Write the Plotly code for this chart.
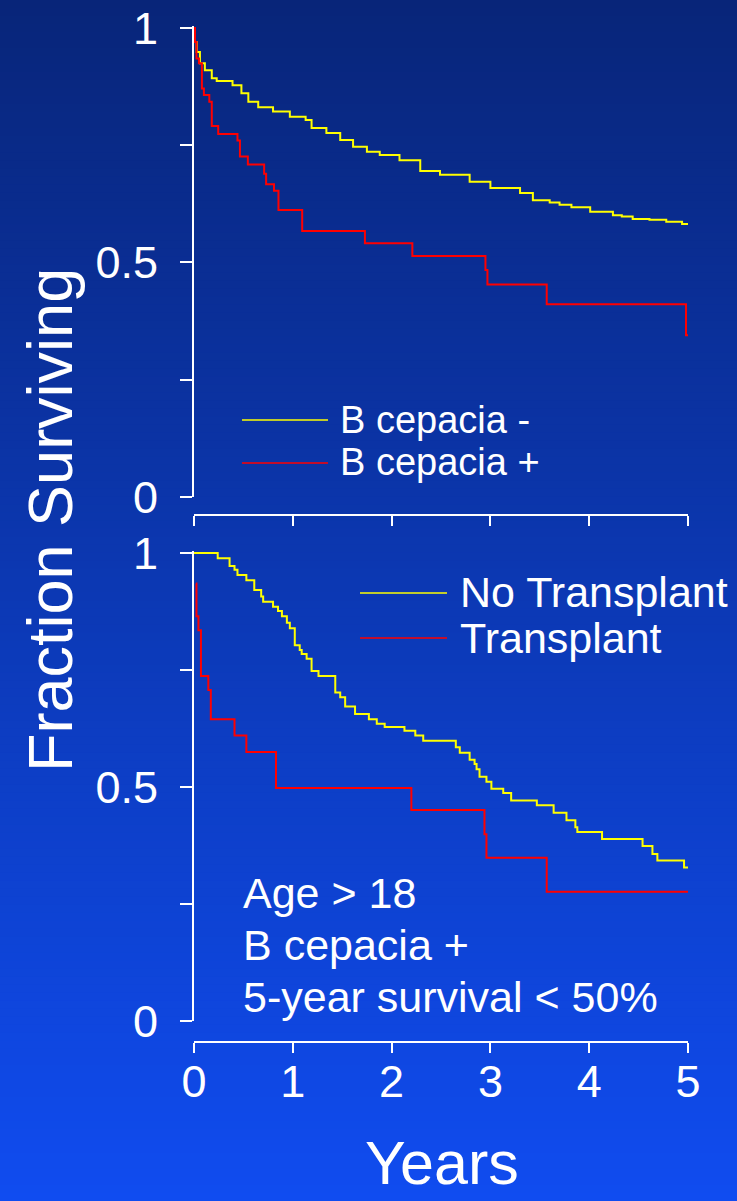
import plotly.graph_objects as go

# ---------------- data ----------------
# Top panel: B cepacia negative / positive (Kaplan-Meier steps: time in years, fraction surviving)
neg_t = [0, 0.01, 0.027, 0.06, 0.11, 0.18, 0.23, 0.39, 0.48, 0.55, 0.65, 0.80, 0.97, 1.13, 1.19,
         1.34, 1.48, 1.61, 1.75, 1.88, 2.08, 2.29, 2.49, 2.79, 3.0, 3.3, 3.43, 3.60, 3.70, 3.82,
         4.01, 4.24, 4.33, 4.44, 4.61, 4.78, 4.94, 5.0]
neg_s = [1.0, 0.97, 0.949, 0.925, 0.91, 0.893, 0.887, 0.878, 0.861, 0.843, 0.831, 0.822, 0.811, 0.804, 0.787,
         0.776, 0.761, 0.747, 0.736, 0.729, 0.718, 0.695, 0.687, 0.672, 0.659, 0.648, 0.633, 0.628, 0.623, 0.618,
         0.608, 0.601, 0.598, 0.593, 0.591, 0.587, 0.582, 0.582]

pos_t = [0, 0.01, 0.025, 0.05, 0.08, 0.10, 0.155, 0.18, 0.245, 0.44, 0.465, 0.545, 0.71, 0.73, 0.81,
         0.855, 1.095, 1.73, 2.21, 2.95, 2.97, 3.57, 4.98, 5.0]
pos_s = [1.0, 0.97, 0.935, 0.925, 0.871, 0.857, 0.843, 0.791, 0.774, 0.760, 0.726, 0.709, 0.689, 0.667, 0.653,
         0.612, 0.567, 0.541, 0.514, 0.484, 0.453, 0.411, 0.345, 0.345]

# Bottom panel: no transplant / transplant
notx_t = [0, 0.24, 0.36, 0.41, 0.44, 0.53, 0.61, 0.68, 0.70, 0.80, 0.85, 0.89, 0.94, 0.97, 1.02, 1.07,
          1.09, 1.14, 1.19, 1.26, 1.43, 1.48, 1.53, 1.63, 1.77, 1.85, 1.93, 2.13, 2.24, 2.32, 2.65, 2.69,
          2.79, 2.84, 2.86, 2.89, 2.96, 3.01, 3.13, 3.21, 3.47, 3.64, 3.77, 3.86, 3.88, 4.13, 4.54, 4.64,
          4.69, 4.96, 5.0]
notx_s = [1.0, 0.989, 0.972, 0.964, 0.953, 0.942, 0.921, 0.907, 0.896, 0.885, 0.876, 0.865, 0.851, 0.839, 0.803, 0.793,
          0.784, 0.774, 0.748, 0.737, 0.702, 0.692, 0.672, 0.656, 0.645, 0.635, 0.628, 0.620, 0.610, 0.599, 0.585, 0.573,
          0.558, 0.549, 0.538, 0.522, 0.511, 0.496, 0.487, 0.471, 0.461, 0.445, 0.429, 0.414, 0.404, 0.389, 0.374, 0.357,
          0.343, 0.328, 0.328]

tx_t = [0.02, 0.025, 0.045, 0.07, 0.145, 0.17, 0.41, 0.53, 0.83, 2.20, 2.94, 2.96, 3.57, 5.0]
tx_s = [0.935, 0.865, 0.835, 0.737, 0.707, 0.645, 0.610, 0.575, 0.498, 0.451, 0.399, 0.349, 0.276, 0.276]

x_ticks = [0, 1, 2, 3, 4, 5]
x_ticklabels = ["0", "1", "2", "3", "4", "5"]
y_ticks = [0, 0.25, 0.5, 0.75, 1]
y_ticklabels = ["0", "", "0.5", "", "1"]

top_legend = ["B cepacia -", "B cepacia +"]
bottom_legend = ["No Transplant", "Transplant"]
bottom_notes = ["Age &gt; 18", "B cepacia +", "5-year survival &lt; 50%"]

# ---------------- layout helpers ----------------
W, H = 737, 1201
FONT = "Liberation Sans, Arial, sans-serif"
YELLOW = "#ffff00"
RED = "#ff0000"
WHITE = "#ffffff"


def py(p):  # pixel-from-top -> paper fraction
    return 1 - p / H


def px(p):
    return p / W


fig = go.Figure()

fig.add_trace(go.Scatter(x=neg_t, y=neg_s, mode="lines", line=dict(color=YELLOW, width=2, shape="hv"),
                         xaxis="x", yaxis="y", name=top_legend[0], showlegend=False))
fig.add_trace(go.Scatter(x=pos_t, y=pos_s, mode="lines", line=dict(color=RED, width=2, shape="hv"),
                         xaxis="x", yaxis="y", name=top_legend[1], showlegend=False))
fig.add_trace(go.Scatter(x=notx_t, y=notx_s, mode="lines", line=dict(color=YELLOW, width=2, shape="hv"),
                         xaxis="x2", yaxis="y2", name=bottom_legend[0], showlegend=False))
fig.add_trace(go.Scatter(x=tx_t, y=tx_s, mode="lines", line=dict(color=RED, width=2, shape="hv"),
                         xaxis="x2", yaxis="y2", name=bottom_legend[1], showlegend=False))

# background gradient (dark navy at top -> bright blue at bottom)
shapes = []
N = 150
top_c = (8, 37, 121)
bot_c = (16, 76, 240)
for i in range(N):
    f = (i + 0.5) / N  # 0 bottom .. 1 top
    c = tuple(round(bot_c[k] + (top_c[k] - bot_c[k]) * f) for k in range(3))
    shapes.append(dict(type="rect", xref="paper", yref="paper", x0=0, x1=1,
                       y0=i / N, y1=(i + 1) / N + 0.001, fillcolor="rgb(%d,%d,%d)" % c,
                       line=dict(width=0), layer="below"))

# legend key lines
shapes += [
    dict(type="line", xref="paper", yref="paper", x0=px(242), x1=px(328), y0=py(420), y1=py(420),
         line=dict(color=YELLOW, width=1.5)),
    dict(type="line", xref="paper", yref="paper", x0=px(242), x1=px(328), y0=py(463), y1=py(463),
         line=dict(color=RED, width=1.5)),
    dict(type="line", xref="paper", yref="paper", x0=px(360), x1=px(447), y0=py(593), y1=py(593),
         line=dict(color=YELLOW, width=1.5)),
    dict(type="line", xref="paper", yref="paper", x0=px(360), x1=px(447), y0=py(638), y1=py(638),
         line=dict(color=RED, width=1.5)),
]


def ann(text, x, y, size, xanchor="left", yanchor="middle", angle=0):
    return dict(text=text, x=px(x), y=py(y), xref="paper", yref="paper", showarrow=False,
                xanchor=xanchor, yanchor=yanchor, textangle=angle,
                font=dict(family=FONT, size=size, color=WHITE))


annotations = [
    ann(top_legend[0], 338, 420, 38),
    ann(top_legend[1], 338, 462, 38),
    ann(bottom_legend[0], 458, 592, 43),
    ann(bottom_legend[1], 458, 638, 43),
    ann(bottom_notes[0], 241, 893, 43),
    ann(bottom_notes[1], 241, 945, 43),
    ann(bottom_notes[2], 241, 997, 43),
    ann("Fraction Surviving", 50, 520, 63, xanchor="center", angle=-90),
    ann("Years", 442, 1163, 61, xanchor="center"),
]

x_dom = [px(194), px(688)]
ytop = 1.005
axis_common = dict(showgrid=False, zeroline=False, showline=True, linecolor=WHITE, linewidth=2,
                   ticks="outside", tickcolor=WHITE, tickwidth=2, automargin=False,
                   tickfont=dict(family=FONT, size=45, color=WHITE))

fig.update_layout(
    width=W, height=H,
    margin=dict(l=0, r=0, t=0, b=0, pad=0, autoexpand=False),
    paper_bgcolor="rgb(12,56,180)",
    plot_bgcolor="rgba(0,0,0,0)",
    showlegend=False,
    shapes=shapes,
    annotations=annotations,
    xaxis=dict(axis_common, domain=x_dom, range=[0, 5], anchor="free", position=py(515),
               tickvals=x_ticks, ticklen=10, showticklabels=False),
    yaxis=dict(axis_common, domain=[py(497), py(497 - 469 * ytop)], range=[0, ytop], anchor="x",
               tickvals=y_ticks, ticktext=y_ticklabels, ticklen=12, ticklabelstandoff=13),
    xaxis2=dict(axis_common, domain=x_dom, range=[0, 5], anchor="free", position=py(1042),
                tickvals=x_ticks, ticktext=x_ticklabels, ticklen=10, ticklabelstandoff=-10),
    yaxis2=dict(axis_common, domain=[py(1021), py(1021 - 468 * ytop)], range=[0, ytop], anchor="x2",
                tickvals=y_ticks, ticktext=y_ticklabels, ticklen=12, ticklabelstandoff=13),
)

fig.write_html("out.html", config={"responsive": False, "displayModeBar": False},
               post_script="document.body.style.margin='0';document.body.style.padding='0';"
                           "document.body.style.background='rgb(16,76,240)';")
